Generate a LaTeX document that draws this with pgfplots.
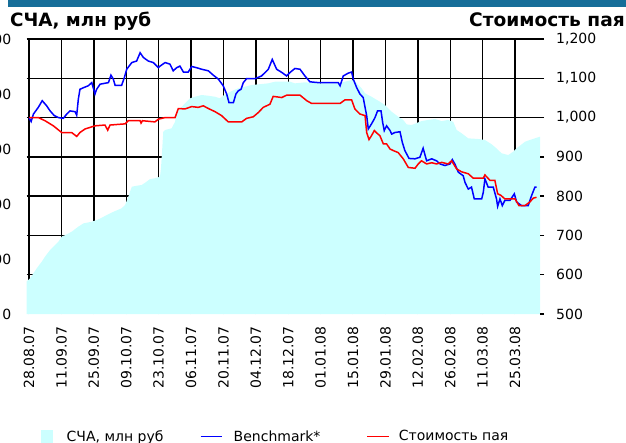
\documentclass[border=0pt]{standalone}
\usepackage{pgfplots}
\pgfplotsset{compat=1.18}
\usepackage{fontspec}
\setmainfont{DejaVu Sans}
\definecolor{areacyan}{RGB}{204,255,255}
\definecolor{barblue}{RGB}{22,110,153}
\newcommand\tickfont{\fontsize{14}{16}\selectfont}
\pgfplotsset{
  sqlegend/.style={legend image code/.code={\path[draw=none] (0pt,0pt) -- (17pt,0pt); \fill[areacyan, draw=none] (0pt,-6.5pt) rectangle (12.6pt,6.5pt);}},
  linelegA/.style={legend image code/.code={\path[draw=none] (0pt,0pt) -- (24pt,0pt); \draw[##1] (0pt,0pt) -- (21.7pt,0pt);}},
  linelegB/.style={legend image code/.code={\draw[##1] (0pt,0pt) -- (21.7pt,0pt);}},
}
\begin{document}
\begin{tikzpicture}
\fill[barblue] (8pt,0pt) rectangle (626pt,-7.3pt);
\node[anchor=base west, inner sep=0pt, font=\bfseries\fontsize{18.3}{20}\selectfont] at (10pt,-26pt) {СЧА, млн руб};
\node[anchor=base east, inner sep=0pt, font=\bfseries\fontsize{18.6}{20}\selectfont] at (625pt,-26.5pt) {Стоимость пая};
\begin{axis}[
  at={(26.5pt,-314pt)}, anchor=south west,
  scale only axis, width=513.5pt, height=275pt,
  xmin=-1.1, xmax=220.8, ymin=0, ymax=2500,
  axis x line*=bottom, axis y line*=left,
  axis line style={draw=none},
  major tick length=0pt,
  xtick={0,14,28,42,56,70,84,98,112,126,140,154,168,182,196,210},
  xticklabels={28.08.07,11.09.07,25.09.07,09.10.07,23.10.07,06.11.07,20.11.07,04.12.07,18.12.07,01.01.08,15.01.08,29.01.08,12.02.08,26.02.08,11.03.08,25.03.08},
  xticklabel style={rotate=90, anchor=east, inner sep=0pt, font=\tickfont},
  xticklabel shift=12pt,
  ytick={0,500,1000,1500,2000,2500},
  yticklabels={0,500,1000,1500,2000,2500},
  yticklabel style={anchor=east, inner sep=0pt, font=\tickfont},
  yticklabel shift=15pt,
  extra y ticks={357.14,714.29,1071.43,1428.57,1785.71,2142.86,2500},
  extra y tick labels={},
  extra y tick style={grid=major},
  xmajorgrids=true,
  major grid style={black, line width=1.4pt},
]
\addplot[fill=areacyan, draw=none] coordinates {
(-1.1,294) (0.4,324) (1.9,370) (3.3,415) (5.5,476) (6.9,521) (9.1,582) (11.2,627) (12.7,657) (14.1,703) (16.3,724) (18.4,748) (21.3,794) (23.5,824) (27.1,839) (29.2,854) (31.4,875) (33.6,900) (35.0,915) (37.2,936) (40.0,961) (41.5,991) (42.9,1066) (44.4,1157) (46.5,1166) (48.7,1173) (50.8,1203) (52.3,1227) (54.4,1234) (56.6,1248) (57.0,1324) (57.3,1415) (58.0,1657) (58.8,1673) (61.6,1688) (63.1,1748) (63.8,1839) (66.0,1884) (68.1,1930) (69.6,1961) (71.7,1975) (74.6,1991) (77.5,1984) (80.4,1975) (82.5,1961) (84.7,1997) (87.6,2027) (90.4,2052) (93.3,2066) (96.2,2082) (99.1,2088) (103.4,2097) (106.3,2112) (112.8,2112) (114.9,2097) (119.2,2106) (125.0,2097) (133.6,2097) (136.5,2112) (139.4,2127) (140.8,2118) (142.3,2082) (143.7,2052) (145.2,2006) (148.0,1975) (151.6,1930) (153.8,1900) (156.7,1839) (159.5,1794) (161.7,1764) (163.2,1724) (165.3,1718) (168.9,1748) (169.6,1754) (172.5,1764) (175.4,1773) (178.3,1754) (181.1,1764) (183.3,1748) (184.8,1673) (186.9,1643) (189.8,1597) (194.1,1591) (197.0,1582) (199.9,1543) (202.0,1506) (204.2,1461) (207.1,1445) (209.2,1476) (210.7,1506) (214.3,1566) (216.4,1582) (218.6,1597) (220.8,1612)
} \closedcycle;
\end{axis}
\begin{axis}[
  at={(26.5pt,-314pt)}, anchor=south west,
  scale only axis, width=513.5pt, height=275pt,
  xmin=-1.1, xmax=220.8, ymin=500, ymax=1200,
  axis x line=none, axis y line*=right,
  y axis line style={draw=none},
  ytick={500,600,700,800,900,1000,1100,1200},
  yticklabels={500,600,700,800,900,{1,000},{1,100},{1,200}},
  ytick style={black, line width=1.4pt},
  tick align=outside, major tick length=4pt,
  yticklabel style={font=\tickfont, inner sep=0pt},
  yticklabel shift=12pt,
  legend columns=3,
  legend style={draw=none, fill=none, inner sep=0pt, outer sep=0pt, font=\tickfont,
    nodes={inner sep=0pt},
    /tikz/every odd column/.append style={column sep=9pt},
    at={(0.02765,-0.4455)}, anchor=west},
]
\addlegendimage{sqlegend}
\addlegendentry{\makebox[133.3pt][l]{СЧА, млн руб}}
\addplot[blue, line width=1.5pt, linelegA] coordinates {
(0,1000) (0.9,990) (1.9,1009) (4.0,1026) (5.7,1043) (7.6,1030) (9.1,1017) (10.9,1005) (12.7,1000) (14.8,998) (16.3,1009) (17.7,1017) (19.9,1015) (20.6,1006) (21.3,1047) (22.0,1072) (23.5,1076) (25.6,1081) (27.1,1089) (28.5,1060) (29.2,1072) (30.7,1085) (34.3,1089) (35.4,1108) (36.4,1098) (37.2,1082) (40.0,1082) (41.2,1102) (42.2,1123) (44.4,1140) (46.5,1144) (48.0,1165) (49.4,1153) (51.5,1144) (53.7,1140) (55.9,1127) (56.6,1131) (58.8,1140) (60.9,1136) (62.3,1119) (63.8,1127) (65.2,1131) (66.7,1116) (68.8,1116) (70.3,1130) (72.4,1127) (74.6,1123) (77.5,1119) (79.6,1108) (81.8,1098) (83.9,1081) (85.4,1060) (86.4,1038) (88.3,1038) (89.4,1060) (90.4,1068) (91.6,1072) (92.6,1089) (94.0,1099) (97.6,1099) (100.5,1106) (103.4,1123) (105.1,1148) (107.0,1123) (109.2,1115) (111.3,1106) (112.8,1115) (114.9,1125) (117.1,1123) (119.2,1106) (121.4,1091) (125.0,1089) (133.6,1089) (134.4,1081) (135.8,1106) (137.9,1113) (139.4,1116) (140.1,1098) (141.6,1076) (143.0,1060) (144.4,1051) (145.2,1026) (145.9,1005) (146.6,971) (148.0,984) (149.5,1000) (150.6,1017) (152.1,1017) (152.8,988) (153.5,967) (154.5,979) (156.0,967) (156.7,958) (158.1,962) (160.3,964) (161.3,937) (162.4,916) (164.2,896) (166.8,895) (168.9,899) (170.3,922) (171.8,890) (174.0,895) (176.1,890) (177.6,882) (179.7,878) (181.9,882) (182.9,893) (184.0,882) (185.5,861) (187.6,852) (188.4,835) (189.8,818) (191.2,823) (192.4,793) (195.6,793) (196.3,810) (197.0,844) (198.4,823) (200.6,823) (202.0,793) (202.5,774) (203.5,793) (204.5,776) (205.6,789) (207.8,789) (209.7,806) (210.7,785) (212.8,776) (215.7,776) (217.2,802) (218.6,823) (219.3,823)
};
\addlegendentry{\makebox[133pt][l]{Benchmark*}}
\addplot[red, line width=1.5pt, linelegB] coordinates {
(0,1000) (4.0,1000) (6.9,992) (10.5,979) (14.1,962) (18.4,962) (20.6,952) (22.0,962) (24.2,971) (28.5,979) (32.8,981) (34.0,968) (35.0,981) (41.5,984) (42.9,992) (48.0,992) (48.4,986) (49.0,992) (54.4,989) (55.9,996) (58.8,1000) (63.1,1000) (64.5,1023) (67.4,1022) (70.3,1028) (73.1,1026) (75.3,1030) (77.5,1023) (80.4,1015) (83.2,1005) (86.1,989) (91.9,989) (94.0,998) (96.9,1002) (99.1,1013) (101.2,1026) (104.1,1034) (105.5,1054) (109.2,1051) (111.3,1057) (117.1,1057) (120.0,1043) (122.1,1036) (134.4,1036) (136.5,1045) (139.4,1045) (140.8,1022) (143.0,1009) (145.2,1005) (145.9,962) (146.9,944) (148.0,954) (149.2,967) (150.2,961) (151.6,954) (153.1,933) (154.5,933) (156.0,920) (157.4,916) (159.5,911) (161.7,895) (163.9,873) (166.8,871) (168.2,882) (169.6,890) (171.8,882) (174.0,885) (176.1,882) (178.3,886) (181.1,882) (182.6,890) (184.8,869) (186.9,862) (189.8,857) (191.9,846) (196.3,846) (197.0,854) (199.2,840) (201.3,840) (202.5,806) (203.9,802) (205.6,793) (210.0,793) (211.7,776) (214.3,776) (216.4,785) (217.9,795) (219.3,797)
};
\addlegendentry{Стоимость пая}
\end{axis}
\pgfresetboundingbox
\path[use as bounding box] (0pt,0pt) rectangle (626pt,-442pt);
\end{tikzpicture}
\end{document}
